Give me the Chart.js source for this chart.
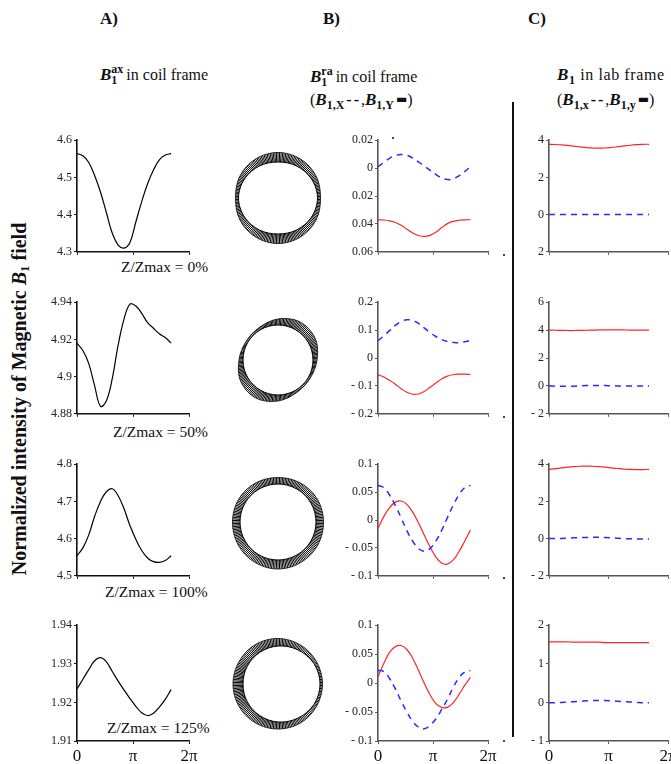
<!DOCTYPE html>
<html>
<head>
<meta charset="utf-8">
<script src="https://cdn.jsdelivr.net/npm/chart.js@4.4.1/dist/chart.umd.min.js"></script>
<style>
  body { margin: 0; background: #fff; }
  #fig { position: relative; width: 671px; height: 764px; overflow: hidden; background: #fff;
         font-family: "Liberation Serif", "Times New Roman", serif; color: #111; }
  #fig canvas { position: absolute; }
  .t { position: absolute; white-space: nowrap; line-height: 1; }
  .hd { font-weight: bold; font-size: 17px; }
  .ti { font-size: 16px; }
  .wide { letter-spacing: 0.6px; }
  .bb { font-weight: bold; font-style: italic; font-size: 17px; }
  .st { display: inline-block; vertical-align: -4px; font-weight: bold; font-size: 12px; line-height: 0.9; margin-right: 3px; }
  .st span { display: block; }
  .sb { font-weight: bold; font-size: 12px; vertical-align: -4px; }
  .dd { font-weight: bold; letter-spacing: 2px; margin-left: 2px; }
  .bar { font-size: 12px; font-family: "DejaVu Sans", sans-serif; vertical-align: 2px; margin-left: 2px; }
  .zl { font-size: 15.5px; }
  .ylab { font-weight: bold; font-size: 20px; transform: translate(-50%, -50%) rotate(-90deg); }
  .sep { position: absolute; left: 512px; top: 102px; width: 2px; height: 635px; background: #111; }
  .dot { position: absolute; width: 2px; height: 2px; background: #444; }
</style>
</head>
<body>
<div id="fig">
  <div class="t hd" style="left:100px;top:10px">A)</div>
  <div class="t hd" style="left:323px;top:10px">B)</div>
  <div class="t hd" style="left:528px;top:10px">C)</div>

  <div class="t ti" style="left:100px;top:64px"><span class="bb">B</span><span class="st"><span>ax</span><span>1</span></span>in coil frame</div>
  <div class="t ti" style="left:310px;top:66px"><span class="bb">B</span><span class="st"><span>ra</span><span>1</span></span>in coil frame</div>
  <div class="t ti" style="left:310px;top:91px">(<span class="bb">B</span><span class="sb">1,X</span><span class="dd">--</span>,<span class="bb">B</span><span class="sb">1,Y</span><b class="bar">▬</b>)</div>
  <div class="t ti wide" style="left:557px;top:66px"><span class="bb">B</span><span class="sb">1</span> in lab frame</div>
  <div class="t ti" style="left:557px;top:91px">(<span class="bb">B</span><span class="sb">1,x</span><span class="dd">--</span>,<span class="bb">B</span><span class="sb">1,y</span><b class="bar">▬</b>)</div>

  <div class="t ylab" style="left:20px;top:399px">Normalized intensity of Magnetic <i>B</i><span style="font-size:13px;vertical-align:-3px">1</span> field</div>

  <div class="t zl" style="left:121px;top:259px">Z/Zmax = 0%</div>
  <div class="t zl" style="left:113px;top:424px">Z/Zmax = 50%</div>
  <div class="t zl" style="left:105px;top:584px">Z/Zmax = 100%</div>
  <div class="t zl" style="left:107px;top:720px">Z/Zmax = 125%</div>

  <div class="sep"></div>
  <div class="dot" style="left:392px;top:137px"></div>
  <div class="dot" style="left:503px;top:254px"></div>
  <div class="dot" style="left:503px;top:416px"></div>
  <div class="dot" style="left:503px;top:577px"></div>
  <div class="dot" style="left:503px;top:740px"></div>
</div>

<script>
// angle samples along the coil (x values of every series)
const theta = [0, 0.33, 0.66, 0.99, 1.32, 1.65, 1.98, 2.31, 2.64, 2.97, 3.3, 3.63, 3.96, 4.29, 4.62, 4.95, 5.28];
const xTicks = [0, Math.PI, 2 * Math.PI];
const xTickLabels = ["0", "π", "2π"];

// column A: B1ax in coil frame
const aRow1 = [4.564, 4.558, 4.54, 4.505, 4.46, 4.405, 4.35, 4.318, 4.31, 4.325, 4.38, 4.435, 4.483, 4.52, 4.547, 4.56, 4.564];
const aRow2 = [4.918, 4.914, 4.907, 4.895, 4.884, 4.887, 4.899, 4.917, 4.931, 4.939, 4.938, 4.934, 4.929, 4.926, 4.923, 4.921, 4.918];
const aRow3 = [4.554, 4.575, 4.61, 4.66, 4.7, 4.726, 4.734, 4.715, 4.68, 4.635, 4.598, 4.568, 4.548, 4.538, 4.536, 4.541, 4.554];
const aRow4 = [1.9235, 1.926, 1.9285, 1.9308, 1.9316, 1.9305, 1.928, 1.9255, 1.9232, 1.921, 1.919, 1.9173, 1.9166, 1.9172, 1.9188, 1.9208, 1.9233];

// column B: B1ra in coil frame (X dashed blue, Y solid red)
const bX1 = [0.001, 0.004, 0.007, 0.009, 0.0098, 0.0092, 0.0072, 0.0045, 0.0015, -0.0015, -0.0045, -0.007, -0.0082, -0.0078, -0.0055, -0.0025, 0.001];
const bY1 = [-0.037, -0.0372, -0.0378, -0.039, -0.041, -0.0438, -0.0465, -0.0483, -0.049, -0.0482, -0.046, -0.0428, -0.0398, -0.0382, -0.0374, -0.0371, -0.037];
const bX2 = [0.062, 0.079, 0.098, 0.117, 0.131, 0.137, 0.135, 0.124, 0.108, 0.091, 0.077, 0.066, 0.059, 0.056, 0.055, 0.058, 0.063];
const bY2 = [-0.06, -0.068, -0.08, -0.094, -0.11, -0.123, -0.13, -0.129, -0.12, -0.105, -0.09, -0.075, -0.065, -0.06, -0.058, -0.058, -0.059];
const bX3 = [0.062, 0.058, 0.045, 0.026, 0.004, -0.019, -0.038, -0.051, -0.056, -0.051, -0.038, -0.019, 0.004, 0.026, 0.045, 0.058, 0.062];
const bY3 = [-0.015, 0.006, 0.022, 0.032, 0.034, 0.028, 0.014, -0.005, -0.027, -0.048, -0.066, -0.077, -0.079, -0.072, -0.057, -0.038, -0.018];
const bX4 = [0.022, 0.02, 0.008, -0.01, -0.031, -0.05, -0.066, -0.076, -0.079, -0.073, -0.062, -0.046, -0.028, -0.008, 0.009, 0.019, 0.022];
const bY4 = [0.011, 0.034, 0.053, 0.063, 0.065, 0.058, 0.043, 0.022, 0, -0.02, -0.035, -0.042, -0.042, -0.034, -0.02, -0.004, 0.01];

// column C: B1 in lab frame (x dashed blue, y solid red)
const cX1 = [0, 0, 0, 0, 0, 0, 0, 0, 0, 0, 0, 0, 0, 0, 0, 0, 0];
const cY1 = [3.78, 3.77, 3.75, 3.72, 3.68, 3.64, 3.6, 3.58, 3.57, 3.58, 3.61, 3.65, 3.69, 3.73, 3.76, 3.78, 3.78];
const cX2 = [0, -0.02, -0.03, -0.03, -0.02, 0, 0.02, 0.03, 0.03, 0.02, 0.01, 0, -0.01, -0.01, 0, 0, 0];
const cY2 = [4.0, 3.99, 3.98, 3.97, 3.97, 3.98, 3.99, 4.0, 4.01, 4.02, 4.02, 4.02, 4.01, 4.0, 4.0, 4.0, 4.0];
const cX3 = [0, 0, 0.01, 0.02, 0.04, 0.05, 0.06, 0.07, 0.07, 0.06, 0.04, 0.02, 0, -0.01, -0.02, -0.02, -0.02];
const cY3 = [3.72, 3.76, 3.8, 3.84, 3.87, 3.89, 3.9, 3.89, 3.87, 3.84, 3.8, 3.77, 3.74, 3.72, 3.71, 3.71, 3.72];
const cX4 = [-0.01, -0.01, 0, 0.01, 0.02, 0.03, 0.04, 0.05, 0.05, 0.05, 0.04, 0.03, 0.02, 0.01, 0, -0.01, -0.01];
const cY4 = [1.57, 1.57, 1.57, 1.57, 1.56, 1.56, 1.56, 1.56, 1.56, 1.55, 1.55, 1.55, 1.55, 1.55, 1.55, 1.55, 1.55];

// quiver rings: inner / outer radius of the arrow band, clockwise from the top
const ringAngles = ["0", "30", "60", "90", "120", "150", "180", "210", "240", "270", "300", "330"];
const ringInner1 = [36, 37, 38.5, 39.5, 38.5, 37, 36, 37, 38.5, 39.5, 38.5, 37];
const ringOuter1 = [45.5, 45, 44, 42.5, 44, 45, 45.5, 45, 44, 42.5, 44, 45];
const ringInner2 = [35, 35, 35, 35, 35, 35, 35, 35, 35, 35, 35, 35];
const ringOuter2 = [41, 44, 43, 39, 37, 37.5, 41, 44, 43, 39, 37, 37.5];
const ringInner3 = [38, 38, 38, 38, 38, 38, 38, 38, 38, 38, 38, 38];
const ringOuter3 = [44.5, 45, 45.5, 45.5, 46, 46.5, 47, 46.5, 46, 45.5, 45.5, 45];
const ringInner4 = [38, 39.5, 41.3, 42, 41.3, 39.5, 38, 36.5, 35.5, 35, 35.5, 36.5];
const ringOuter4 = [45.5, 45, 44.5, 44.5, 44.5, 45, 45, 45, 45, 45, 45, 45.5];
const ringArrows = 180; // number of hatch arrows drawn around each ring

Chart.defaults.font.family = "'Liberation Serif', 'Times New Roman', serif";
Chart.defaults.color = "#222";
Chart.defaults.animation = false;

const fig = document.getElementById("fig");
const RED = "#ff2424";
const BLUE = "#2a2aff";

function mk(x, y, w, h) {
  const c = document.createElement("canvas");
  c.width = w; c.height = h;
  c.style.left = x + "px"; c.style.top = y + "px";
  c.style.width = w + "px"; c.style.height = h + "px";
  fig.appendChild(c);
  return c;
}

const plain = (v) => String(+v.toFixed(4));
const noMinus = (v) => String(+Math.abs(v).toFixed(4));
const spaced = (v) => (v < 0 ? "- " + String(+(-v).toFixed(4)) : String(+v.toFixed(4)));

const YW = 56;
function linePlot(axisX, top, w, h, series, y, axisColor, showX) {
  const xh = showX ? 26 : 4;
  const cv = mk(axisX - YW, top - 8, YW + w + 12, 8 + h + xh + 2);
  new Chart(cv, {
    type: "line",
    data: {
      datasets: series.map((s) => ({
        data: theta.map((t, i) => ({ x: t, y: s.values[i] })),
        borderColor: s.color,
        borderWidth: s.dash ? 1.5 : 1.2,
        borderDash: s.dash || [],
        pointRadius: 0,
        tension: 0.4,
        fill: false,
      })),
    },
    options: {
      responsive: false,
      devicePixelRatio: 1,
      layout: { padding: { top: 8, right: 12, bottom: 2, left: 0 } },
      plugins: { legend: { display: false }, tooltip: { enabled: false } },
      scales: {
        x: {
          type: "linear", min: 0, max: 2 * Math.PI,
          afterBuildTicks: (sc) => { sc.ticks = xTicks.map((v) => ({ value: v })); },
          afterFit: (sc) => { sc.height = xh; },
          ticks: {
            display: showX, padding: 2, color: "#111",
            font: { size: 17 },
            callback: (v, i) => xTickLabels[i],
          },
          grid: { drawOnChartArea: false, drawTicks: true, tickLength: 3, color: axisColor },
          border: { display: true, color: axisColor, width: 1.6 },
        },
        y: {
          min: y.min, max: y.max,
          afterFit: (sc) => { sc.width = YW; },
          ticks: { stepSize: y.step, padding: 2, font: { size: 12 }, callback: y.fmt },
          grid: { drawOnChartArea: false, drawTicks: true, tickLength: 3, color: axisColor },
          border: { display: true, color: axisColor, width: 1.6 },
        },
      },
    },
  });
}

const spokeLabels = Array.from({ length: ringArrows }, (_, i) => String(i));
const noUi = { legend: { display: false }, tooltip: { enabled: false } };

function ringPlot(cx, cy, inner, outer) {
  // radial hatch: the angle lines of a bare radial scale (kept inside r = 48)
  new Chart(mk(cx - 50, cy - 50, 100, 100), {
    type: "radar",
    data: { labels: spokeLabels, datasets: [] },
    options: {
      responsive: false, devicePixelRatio: 1, plugins: noUi,
      layout: { padding: 2 },
      scales: {
        r: {
          min: 0, max: 50,
          ticks: { display: false },
          grid: { display: false },
          pointLabels: { display: false },
          angleLines: { display: true, color: "#000", lineWidth: 1 },
        },
      },
    },
  });
  // band limits: white outside the outer edge and inside the inner edge
  new Chart(mk(cx - 50, cy - 50, 100, 100), {
    type: "radar",
    data: {
      labels: ringAngles,
      datasets: [
        { data: outer, borderColor: "#000", borderWidth: 0.8, backgroundColor: "#fff", fill: "end", pointRadius: 0, tension: 0.35 },
        { data: inner, borderColor: "#000", borderWidth: 1, backgroundColor: "#fff", fill: "origin", pointRadius: 0, tension: 0.35 },
      ],
    },
    options: {
      responsive: false, devicePixelRatio: 1, plugins: noUi,
      scales: { r: { min: 0, max: 50, display: false, grid: { circular: true } } },
    },
  });
}

const rowTop = [139, 301, 463, 624];
const rowH = [116, 116, 116, 117];
const BLK = "#111", GRY = "#555";

const aY = [
  { min: 4.3, max: 4.6, step: 0.1, fmt: plain },
  { min: 4.88, max: 4.94, step: 0.02, fmt: plain },
  { min: 4.5, max: 4.8, step: 0.1, fmt: plain },
  { min: 1.91, max: 1.94, step: 0.01, fmt: plain },
];
const bY = [
  { min: -0.06, max: 0.02, step: 0.02, fmt: noMinus },
  { min: -0.2, max: 0.2, step: 0.1, fmt: spaced },
  { min: -0.1, max: 0.1, step: 0.05, fmt: spaced },
  { min: -0.1, max: 0.1, step: 0.05, fmt: spaced },
];
const cY = [
  { min: -2, max: 4, step: 2, fmt: noMinus },
  { min: -2, max: 6, step: 2, fmt: spaced },
  { min: -2, max: 4, step: 2, fmt: spaced },
  { min: -1, max: 2, step: 1, fmt: spaced },
];
const aData = [aRow1, aRow2, aRow3, aRow4];
const bData = [[bX1, bY1], [bX2, bY2], [bX3, bY3], [bX4, bY4]];
const cData = [[cX1, cY1], [cX2, cY2], [cX3, cY3], [cX4, cY4]];
const rings = [[ringInner1, ringOuter1], [ringInner2, ringOuter2], [ringInner3, ringOuter3], [ringInner4, ringOuter4]];

for (let r = 0; r < 4; r++) {
  const last = r === 3;
  linePlot(77, rowTop[r], 112, rowH[r], [{ values: aData[r], color: "#000" }], aY[r], BLK, last);
  linePlot(378, rowTop[r], 110, rowH[r], [
    { values: bData[r][0], color: BLUE, dash: [6, 5] },
    { values: bData[r][1], color: RED },
  ], bY[r], GRY, last);
  linePlot(549, rowTop[r], 119, rowH[r], [
    { values: cData[r][0], color: BLUE, dash: [6, 5] },
    { values: cData[r][1], color: RED },
  ], cY[r], GRY, last);
  ringPlot(278, rowTop[r] + rowH[r] / 2 + 1, rings[r][0], rings[r][1]);
}
</script>
</body>
</html>
